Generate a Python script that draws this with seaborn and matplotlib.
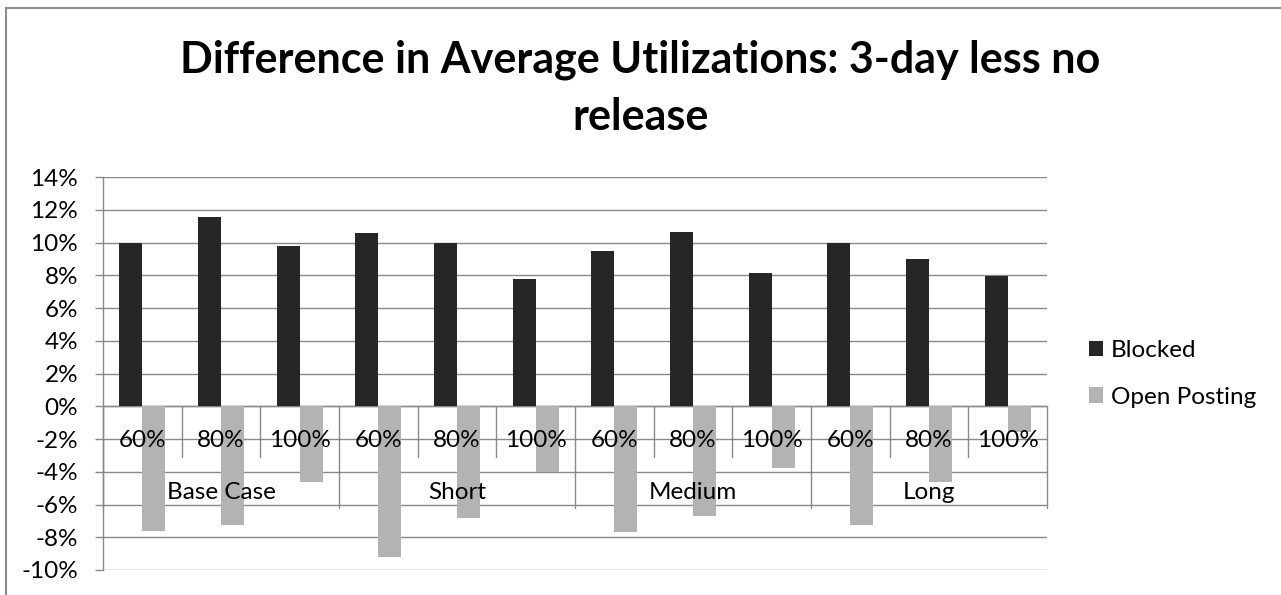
import pandas as pd
import seaborn as sns
import matplotlib.pyplot as plt
from matplotlib.ticker import FuncFormatter, MultipleLocator
from matplotlib.patches import Rectangle

sns.set_style("white")
plt.rcParams["font.family"] = ["Lato", "DejaVu Sans"]
plt.rcParams["axes.unicode_minus"] = False
plt.rcParams["text.color"] = "black"
plt.rcParams["ytick.labelcolor"] = "black"

# data
groups = ["Base Case", "Short", "Medium", "Long"]
levels = ["60%", "80%", "100%"]
blocked = [0.1000, 0.1155, 0.0977, 0.1060, 0.1000, 0.0777,
           0.0950, 0.1062, 0.0813, 0.1000, 0.0900, 0.0797]
open_posting = [-0.0762, -0.0728, -0.0463, -0.0922, -0.0685, -0.0402,
                -0.0769, -0.0671, -0.0377, -0.0728, -0.0461, -0.0160]
series = ["Blocked", "Open Posting"]
colors = ["#262626", "#b3b3b3"]

keys = [g + " " + lv for g in groups for lv in levels]
df = pd.DataFrame({
    "key": keys * 2,
    "value": blocked + open_posting,
    "series": [series[0]] * len(keys) + [series[1]] * len(keys),
})

fig = plt.figure(figsize=(12.81, 5.95), dpi=100)
ax = fig.add_axes([103 / 1281, 1 - 570 / 595, (1047 - 103) / 1281, (570 - 177) / 595])

sns.barplot(data=df, x="key", y="value", hue="series", order=keys,
            palette=colors, saturation=1, width=0.585, gap=0,
            linewidth=0, ax=ax, zorder=3)

grid_c = "#898989"
fs = 17.5
ax.set_ylim(-0.10, 0.14)
ax.set_xlim(-0.5, len(keys) - 0.5)
ax.yaxis.set_major_locator(MultipleLocator(0.02))
ax.yaxis.set_major_formatter(FuncFormatter(lambda v, p: f"{round(v * 100):d}%"))
ax.grid(axis="y", color=grid_c, lw=1.0, zorder=0)
ax.set_axisbelow(True)
for s in ["top", "right", "bottom"]:
    ax.spines[s].set_visible(False)
ax.spines["left"].set_color(grid_c)
ax.spines["left"].set_linewidth(1.0)
ax.tick_params(axis="y", direction="out", length=6, width=1.0, color=grid_c,
               pad=12, labelsize=fs, left=True, labelcolor="black")
ax.set_xticks([])
ax.set_xlabel("")
ax.set_ylabel("")

# category axis drawn at zero, Excel-style multi-level labels
ax.axhline(0, color=grid_c, lw=1.0, zorder=2)
for i, k in enumerate(keys):
    ax.text(i, -0.0208, levels[i % 3], ha="center", va="center",
            fontsize=fs, color="black", zorder=5)
    if i % 3 != 0:
        ax.plot([i - 0.5, i - 0.5], [0, -0.0312], color=grid_c, lw=1.0,
                zorder=2, clip_on=False)
for j, g in enumerate(groups):
    ax.text(j * 3 + 1, -0.0526, g, ha="center", va="center",
            fontsize=fs, color="black", zorder=5)
for j in range(len(groups) + 1):
    ax.plot([j * 3 - 0.5, j * 3 - 0.5], [0, -0.0624], color=grid_c, lw=1.0,
            zorder=2, clip_on=False)

ax.legend(loc="center left", bbox_to_anchor=(1067 / 1281, 1 - 374 / 595),
          bbox_transform=fig.transFigure, frameon=False, fontsize=fs,
          handlelength=0.6, handleheight=0.6, handletextpad=0.3,
          labelspacing=1.05, labelcolor="black")

fig.text(0.5, 1 - 73 / 595, "Difference in Average Utilizations: 3-day less no",
         ha="center", va="baseline", fontsize=31, fontweight="bold", color="black")
fig.text(0.5, 1 - 130 / 595, "release",
         ha="center", va="baseline", fontsize=31, fontweight="bold", color="black")

fig.patches.append(Rectangle((6 / 1281, -0.1), 1.2, 1.1 - 8 / 595,
                             transform=fig.transFigure, fill=False,
                             edgecolor="#8c8c8c", lw=1.5))

fig.savefig("out.png", dpi=100)
